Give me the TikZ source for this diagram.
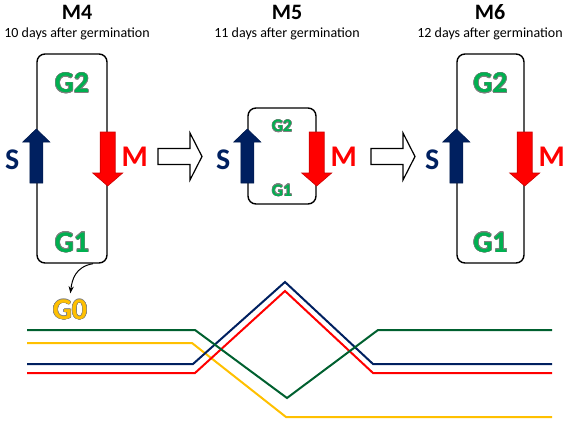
\documentclass[tikz,border=0pt]{standalone}
\usepackage{fontspec}
\setmainfont{Carlito}
\usepackage[copies]{contour}
\contourlength{0.5pt}
\usetikzlibrary{arrows.meta, calc, positioning}
\definecolor{verdefase}{HTML}{00B050}
\definecolor{blufase}{HTML}{002060}
\definecolor{rossofase}{HTML}{FF0000}
\definecolor{giallofase}{HTML}{FFC000}
\definecolor{verdescuro}{HTML}{00602F}
\tikzset{
  ciclo/.style={draw,line width=1.4pt,rounded corners=8pt,inner sep=0pt},
  titolo/.style={font=\bfseries\fontsize{22}{24}\selectfont},
  sottotitolo/.style={font=\fontsize{14}{16}\selectfont},
  fase/.style={font=\bfseries\fontsize{30}{32}\selectfont},
  fasepiccola/.style={font=\bfseries\fontsize{17.5}{19}\selectfont},
  lettera/.style={font=\bfseries\fontsize{30}{32}\selectfont},
  frecciaS/.style={fill=blufase,draw=blufase!80!black,line width=0.6pt},
  frecciaM/.style={fill=rossofase,draw=rossofase!80!black,line width=0.6pt},
  passaggio/.style={fill=white,draw=black,line width=1.2pt},
  traccia/.style={line width=2pt}
}

\begin{document}
\begin{tikzpicture}[x=1pt,y=-1pt]
\useasboundingbox (0,0) rectangle (567,420);

% riquadri del ciclo cellulare
\node[ciclo, minimum width=70pt, minimum height=209pt] (ciclo4) at (72,158.5) {};
\node[ciclo, minimum width=68pt, minimum height=96pt] (ciclo5) at (282,156) {};
\node[ciclo, minimum width=67pt, minimum height=209pt] (ciclo6) at (490.5,158.5) {};

% titoli e giorni
\foreach \n/\x/\g in {4/77/10, 5/287/11, 6/490/12}{
  \node[titolo] (titolo\n) at (\x,12) {M\n};
  \node[sottotitolo] (giorni\n) at (\x,34) {\g{} days after germination};
}

% frecce S (blu) e M (rosse) sui lati dei riquadri
\foreach \c in {4,5,6}{
  \filldraw[frecciaS] ($(ciclo\c.west |- 0,183)+(6.5,0)$) -- ++(0,-41) -- ++(7,0)
    -- (ciclo\c.west |- 0,129) -- ++(-13.5,13) -- ++(7,0) -- ++(0,41) -- cycle;
  \filldraw[frecciaM] ($(ciclo\c.east |- 0,132)+(-7.5,0)$) -- ++(15,0) -- ++(0,41)
    -- ++(7.5,0) -- (ciclo\c.east |- 0,186) -- ++(-15,-13) -- ++(7.5,0) -- cycle;
  \node[lettera, text=blufase] (S\c) at ($(ciclo\c.west |- 0,160)+(-24,0)$) {S};
  \node[lettera, text=rossofase] (M\c) at ($(ciclo\c.east |- 0,157)+(27,0)$) {M};
}

% fasi G1 e G2
\foreach \c in {4,6}{
  \node[fase] (Gdue\c) at ($(ciclo\c.north)+(0,30)$) {\contour{gray}{\textcolor{verdefase}{G2}}};
  \node[fase] (Guno\c) at ($(ciclo\c.south)+(0,-21)$) {\contour{gray}{\textcolor{verdefase}{G1}}};
}
\node[fasepiccola] (Gdue5) at ($(ciclo5.north)+(0,19)$) {\contour{gray}{\textcolor{verdefase}{G2}}};
\node[fasepiccola] (Guno5) at ($(ciclo5.south)+(0,-14)$) {\contour{gray}{\textcolor{verdefase}{G1}}};

% uscita verso G0
\node[fase] (G0) at (70,310) {\contour{gray}{\textcolor{giallofase}{G0}}};
\draw[-{Stealth[length=7pt]}, line width=1pt, shorten >=3pt]
  ($(ciclo4.south)+(21,0)$) .. controls +(-18,3) and +(2,-16) .. (G0.north);

% frecce di passaggio tra gli stadi
\foreach \x in {158, 371}{
  \filldraw[passaggio] (\x,148.5) -- ({\x+32},148.5) -- ({\x+32},133) -- ({\x+44},156.5)
    -- ({\x+32},180) -- ({\x+32},164.5) -- (\x,164.5) -- cycle;
}

% andamento delle fasi
\draw[traccia, giallofase] plot coordinates {(27,343) (192,343) (286,417) (552,417)};
\draw[traccia, rossofase] plot coordinates {(27,373) (195,373) (285,291) (373,373) (552,373)};
\draw[traccia, blufase] plot coordinates {(27,364) (193,364) (285,282) (373,364) (552,364)};
\draw[traccia, verdescuro] plot coordinates {(27,330) (195,330) (287,398) (378,330) (552,330)};

\end{tikzpicture}
\end{document}
